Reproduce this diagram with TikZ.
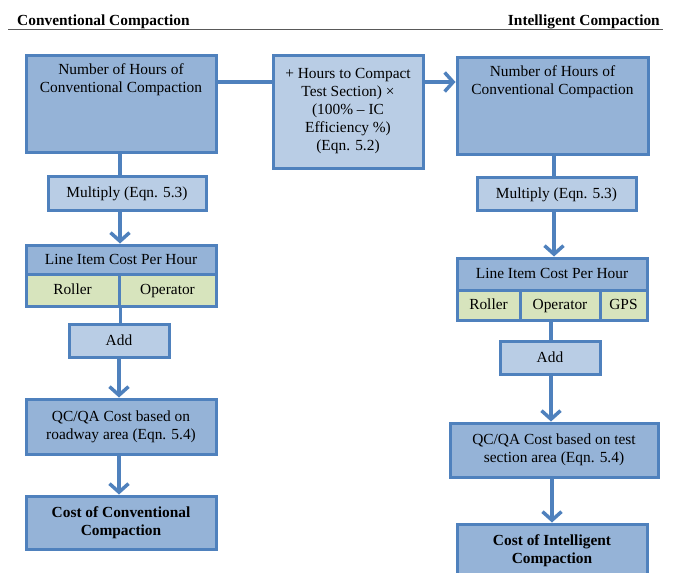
\documentclass[tikz,border=0pt]{standalone}
\usepackage{fontspec}
\setmainfont{Liberation Serif}
\usetikzlibrary{arrows.meta}
\definecolor{edge}{HTML}{4F81BD}
\definecolor{dk}{HTML}{95B3D7}
\definecolor{lt}{HTML}{B9CDE5}
\definecolor{gr}{HTML}{D7E4BD}
\begin{document}
\begin{tikzpicture}[x=1pt,y=-1pt,
  box/.style={draw=edge, line width=3pt, rectangle, inner sep=0pt, align=center,
    font=\fontsize{15.4}{18}\selectfont},
  dkbox/.style={box, fill=dk},
  ltbox/.style={box, fill=lt},
  grbox/.style={box, fill=gr},
  cell/.style={text height=10.5pt, text depth=1.5pt},
  txt/.style={align=center, inner sep=0pt, font=\fontsize{15.4}{18}\selectfont},
  conn/.style={draw=edge, line width=3.5pt},
  arr/.style={conn, -{Straight Barb[length=8.5pt,width=19pt]}},
  title/.style={inner sep=0pt, font=\bfseries\fontsize{15.4}{18}\selectfont}]
\useasboundingbox (0,0) rectangle (675,573);
\clip (0,0) rectangle (675,573);

% titles
\node[title, anchor=base west] (t1) at (17,25) {Conventional Compaction};
\node[title, anchor=base east] (t2) at (660,25) {Intelligent Compaction};
\draw[black!65, line width=1.2pt] (8,29.5) -- (663,29.5);

% top boxes
\node[dkbox, minimum width=190pt, minimum height=97pt] (L1) at (121,103.5) {};
\node[txt] (L1t) at (121,80) {Number of Hours of\\Conventional Compaction};
\node[ltbox, minimum width=150pt, minimum height=113pt] (M) at (348,111.5)
  {+ Hours to Compact\\Test Section) ×\\(100\% – IC\\Efficiency \%)\\(Eqn. 5.2)};
\node[dkbox, minimum width=191pt, minimum height=97pt] (R1) at (552.5,105.5) {};
\node[txt] (R1t) at (552.5,82) {Number of Hours of\\Conventional Compaction};

% left column
\node[ltbox, cell, minimum width=158pt, minimum height=34pt] (Lmul) at (127,193) {Multiply (Eqn. 5.3)};
\node[dkbox, cell, minimum width=190pt, minimum height=29pt] (Lhdr) at (121,259.5) {Line Item Cost Per Hour};
\node[grbox, cell, minimum width=93pt, minimum height=32pt] (Lroll) at (72.5,290) {Roller};
\node[grbox, cell, minimum width=97pt, minimum height=32pt] (Lop) at (167.5,290) {Operator};
\node[ltbox, cell, minimum width=100pt, minimum height=33pt] (Ladd) at (119,340.5) {Add};
\node[dkbox, minimum width=190pt, minimum height=55pt] (LQC) at (121,426.5)
  {QC/QA Cost based on\\roadway area (Eqn. 5.4)};
\node[dkbox, minimum width=190pt, minimum height=53pt, font=\bfseries\fontsize{15.4}{18}\selectfont] (Lcost) at (121,522.5)
  {Cost of Conventional\\Compaction};

% right column
\node[ltbox, cell, minimum width=159pt, minimum height=33pt] (Rmul) at (556.5,193.5) {Multiply (Eqn. 5.3)};
\node[dkbox, cell, minimum width=190pt, minimum height=32pt] (Rhdr) at (552,274) {Line Item Cost Per Hour};
\node[grbox, cell, minimum width=63pt, minimum height=30pt] (Rroll) at (488.5,305) {Roller};
\node[grbox, cell, minimum width=80pt, minimum height=30pt] (Rop) at (560,305) {Operator};
\node[grbox, cell, minimum width=47pt, minimum height=30pt] (Rgps) at (623.5,305) {GPS};
\node[ltbox, cell, minimum width=100pt, minimum height=33pt] (Radd) at (550,357.5) {Add};
\node[dkbox, minimum width=208pt, minimum height=54pt] (RQC) at (554,450)
  {QC/QA Cost based on test\\section area (Eqn. 5.4)};
\node[dkbox, minimum width=190pt, minimum height=53pt, font=\bfseries\fontsize{15.4}{18}\selectfont] (Rcost) at (552,550.5)
  {Cost of Intelligent\\Compaction};

% connectors top
\draw[conn] ([yshift=21.5pt]L1.east) -- ([yshift=21.5pt]L1.east -| M.west);
\draw[arr] ([yshift=29.5pt]M.east) -- ([yshift=29.5pt]M.east -| R1.west);

% left connectors
\draw[conn] ([xshift=-1pt]L1.south) -- ([xshift=-1pt]L1.south |- Lmul.north);
\draw[arr] ([xshift=-1pt]L1.south |- Lmul.south) -- ([xshift=-1pt]Lhdr.north);
\draw[conn] (Lroll.south east) -- (Lroll.south east |- Ladd.north);
\draw[arr] (Ladd.south) -- (Ladd.south |- LQC.north);
\draw[arr] (Ladd.south |- LQC.south) -- (Ladd.south |- Lcost.north);

% right connectors
\draw[conn] ([xshift=1.5pt]R1.south) -- ([xshift=1.5pt]R1.south |- Rmul.north);
\draw[arr] ([xshift=1.5pt]R1.south |- Rmul.south) -- ([xshift=1.5pt]R1.south |- Rhdr.north);
\draw[conn] ([xshift=1pt]Radd.north |- Rop.south) -- ([xshift=1pt]Radd.north);
\draw[arr] ([xshift=1pt]Radd.south) -- ([xshift=1pt]Radd.south |- RQC.north);
\draw[arr] ([xshift=2pt]Radd.south |- RQC.south) -- ([xshift=2pt]Radd.south |- Rcost.north);
\end{tikzpicture}
\end{document}
